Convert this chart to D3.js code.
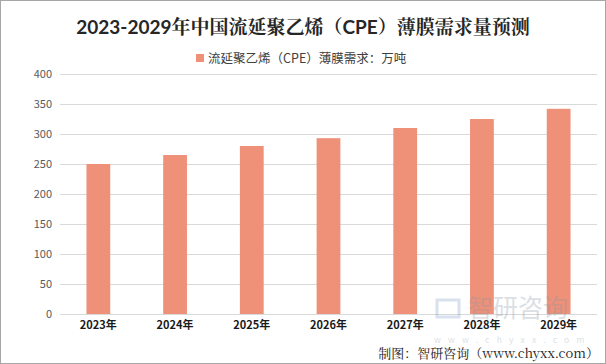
<!DOCTYPE html>
<html><head><meta charset="utf-8">
<script src="https://cdn.jsdelivr.net/npm/d3@7"></script>
<style>body{margin:0;background:#fff}svg{display:block}</style>
</head><body>
<script>
const categories = ["2023年","2024年","2025年","2026年","2027年","2028年","2029年"];
const values = [250, 265, 280, 293, 310, 325, 342];
const yTicks = [0,50,100,150,200,250,300,350,400];
const seriesName = "流延聚乙烯（CPE）薄膜需求：万吨";
const titleText = "2023-2029年中国流延聚乙烯（CPE）薄膜需求量预测";
const sourceText = "制图：智研咨询（www.chyxx.com）";

const W=606,H=364;
const svg=d3.select("body").append("svg").attr("width",W).attr("height",H);
svg.append("rect").attr("x",0.5).attr("y",0.5).attr("width",W-1).attr("height",H-1).attr("fill","#fff").attr("stroke","#a6a6a6");

const x=d3.scaleBand().domain(categories).range([60,597]).paddingInner(0.69).paddingOuter(0.345);
const y=d3.scaleLinear().domain([0,400]).range([314,74]);

const font="'Microsoft YaHei','Noto Sans CJK SC',sans-serif";

svg.append("g").selectAll("line").data(yTicks).join("line")
 .attr("x1",60).attr("x2",597).attr("y1",d=>y(d)+0.5).attr("y2",d=>y(d)+0.5)
 .attr("stroke","#d9d9d9").attr("stroke-width",1);

const yAxis=svg.append("g").attr("transform","translate(52,0)")
 .call(d3.axisLeft(y).tickValues(yTicks).tickSize(0).tickPadding(0));
yAxis.select(".domain").remove();
yAxis.selectAll("text").attr("fill","#595959").attr("font-size",11).attr("font-family",font);

svg.append("g").selectAll("rect").data(values).join("rect")
 .attr("x",(d,i)=>x(categories[i])).attr("width",x.bandwidth())
 .attr("y",d=>y(d)).attr("height",d=>y(0)-y(d)).attr("fill","#ee9178");

// watermark on top, semi-transparent
const wm=svg.append("g").attr("opacity",0.3);
wm.append("rect").attr("x",437).attr("y",300).attr("width",22).attr("height",17).attr("fill","none").attr("stroke","#7f9ec4").attr("stroke-width",3);
wm.append("text").attr("x",468).attr("y",317).attr("font-size",25).attr("fill","#8a97a6").attr("font-family",font).text("智研咨询");
wm.append("text").attr("x",434).attr("y",343).attr("font-size",8.5).attr("letter-spacing",7.2).attr("fill","#8a97a6").attr("font-family",font).text("www.chyxx.com");

const xAxis=svg.append("g").attr("transform","translate(0,320)")
 .call(d3.axisBottom(x).tickSize(0).tickPadding(0));
xAxis.select(".domain").remove();
xAxis.selectAll("text").attr("fill","#1a1a1a").attr("font-size",11).attr("font-weight","bold").attr("font-family",font).attr("dy","0.8em");

svg.append("text").attr("x",303).attr("y",34).attr("text-anchor","middle")
 .attr("font-size",19).attr("font-weight","bold").attr("fill","#262626")
 .attr("font-family","'Lato','Noto Serif CJK SC','Noto Sans CJK SC',serif").text(titleText);

svg.append("rect").attr("x",196).attr("y",54).attr("width",8).attr("height",8).attr("fill","#ee9178");
svg.append("text").attr("x",208).attr("y",62.5).attr("font-size",12.5).attr("fill","#404040")
 .attr("font-family",font).text(seriesName);

svg.append("text").attr("x",599).attr("y",358).attr("text-anchor","end").attr("font-size",13)
 .attr("fill","#1a1a1a").attr("font-family","'Noto Serif CJK SC','Noto Sans CJK SC',serif").text(sourceText);
</script>
</body></html>
